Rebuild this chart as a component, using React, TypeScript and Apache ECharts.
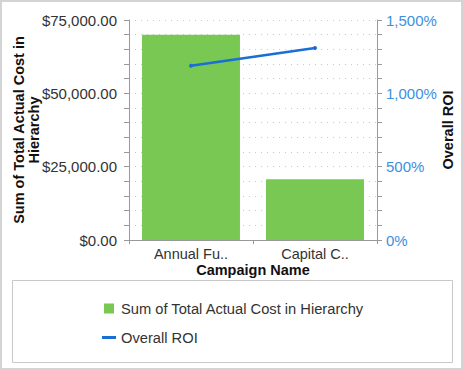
import React, { useEffect, useRef } from "react";
import * as echarts from "echarts";

const categories = ["Annual Fu..", "Capital C.."];
const costValues = [70000, 20700];
const roiValues = [1188, 1309];
const costTicks = [0, 25000, 50000, 75000];
const roiTicks = [0, 500, 1000, 1500];

const FONT = "'Liberation Sans', Arial, sans-serif";

function fmtMoney(v: number) {
  return "$" + v.toLocaleString("en-US", { minimumFractionDigits: 2, maximumFractionDigits: 2 });
}
function fmtPct(v: number) {
  return v.toLocaleString("en-US") + "%";
}

export default function App() {
  const ref = useRef<HTMLDivElement>(null);
  useEffect(() => {
    document.body.style.margin = "0";
    const chart = echarts.init(ref.current!, null, { renderer: "svg" });
    chart.setOption({
      animation: false,
      textStyle: { fontFamily: FONT },
      graphic: [
        {
          type: "rect",
          shape: { x: 1, y: 1, width: 461, height: 368 },
          style: { fill: "none", stroke: "#d4d4d4", lineWidth: 2 },
          silent: true,
        },
        {
          type: "rect",
          shape: { x: 12.5, y: 280.5, width: 440, height: 82 },
          style: { fill: "#fff", stroke: "#c8c8c8", lineWidth: 1 },
          silent: true,
          z: -1,
        },
      ],
      grid: { left: 129, right: 86, top: 20, bottom: 130, containLabel: false, outerBoundsMode: "none" },
      legend: {
        orient: "vertical",
        left: 97,
        top: 296,
        itemGap: 14,
        itemWidth: 14,
        itemHeight: 10,
        textStyle: { fontFamily: FONT, fontSize: 14.7, color: "#333" },
        data: [
          { name: "Sum of Total Actual Cost in Hierarchy", icon: "path://M0,0H10V10H0Z" },
          { name: "Overall ROI", icon: "path://M0,0H14V3H0Z" },
        ],
      },
      xAxis: {
        type: "category",
        data: categories,
        name: "Campaign Name",
        nameLocation: "middle",
        nameGap: 22,
        nameMoveOverlap: false,
        nameTextStyle: { fontFamily: FONT, fontSize: 14.5, fontWeight: "bold", color: "#111" },
        axisLine: { lineStyle: { color: "#999" } },
        axisTick: { show: true, length: 4, lineStyle: { color: "#999" } },
        axisLabel: { fontFamily: FONT, fontSize: 14.5, color: "#333", margin: 6 },
      },
      yAxis: [
        {
          type: "value",
          min: costTicks[0],
          max: costTicks[costTicks.length - 1],
          interval: 25000,
          name: "Sum of Total Actual Cost in\nHierarchy",
          nameLocation: "middle",
          nameGap: 88,
          nameMoveOverlap: false,
          nameRotate: 90,
          nameTextStyle: { fontFamily: FONT, fontSize: 14.5, fontWeight: "bold", color: "#111", lineHeight: 15 },
          axisLine: { show: true, lineStyle: { color: "#999" } },
          axisTick: { show: true, length: 5, lineStyle: { color: "#999" } },
          minorTick: { show: true, splitNumber: 5, length: 5, lineStyle: { color: "#999" } },
          splitLine: { show: true, lineStyle: { color: "#c8c8c8", type: [1, 5] } },
          minorSplitLine: { show: true, lineStyle: { color: "#c8c8c8", type: [1, 5] } },
          axisLabel: { fontFamily: FONT, fontSize: 15, color: "#333", margin: 12, formatter: fmtMoney },
        },
        {
          type: "value",
          min: roiTicks[0],
          max: roiTicks[roiTicks.length - 1],
          interval: 500,
          position: "right",
          name: "Overall ROI",
          nameLocation: "middle",
          nameGap: 63,
          nameMoveOverlap: false,
          nameRotate: 90,
          nameTextStyle: { fontFamily: FONT, fontSize: 14.5, fontWeight: "bold", color: "#111" },
          axisLine: { show: true, lineStyle: { color: "#999" } },
          axisTick: { show: true, length: 5, lineStyle: { color: "#999" } },
          minorTick: { show: true, splitNumber: 5, length: 5, lineStyle: { color: "#999" } },
          splitLine: { show: false },
          axisLabel: { fontFamily: FONT, fontSize: 15, color: "#3d8fe0", margin: 9, formatter: fmtPct },
        },
      ],
      series: [
        {
          name: "Sum of Total Actual Cost in Hierarchy",
          type: "bar",
          data: costValues,
          yAxisIndex: 0,
          barWidth: "79%",
          itemStyle: { color: "#78c853" },
        },
        {
          name: "Overall ROI",
          type: "line",
          data: roiValues,
          yAxisIndex: 1,
          symbol: "circle",
          symbolSize: 4,
          lineStyle: { color: "#1a6fd4", width: 2.5 },
          itemStyle: { color: "#1a6fd4" },
        },
      ],
    });
    return () => chart.dispose();
  }, []);
  return <div ref={ref} style={{ width: 463, height: 370 }} />;
}
